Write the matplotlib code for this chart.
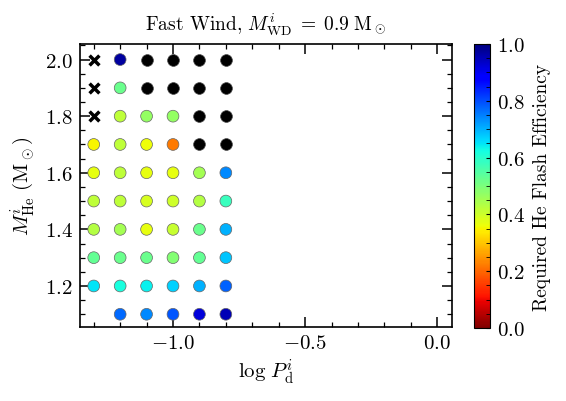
import numpy as np
import matplotlib
matplotlib.use("Agg")
import matplotlib.pyplot as plt
from matplotlib.ticker import MultipleLocator

plt.rcParams["font.family"] = "serif"
plt.rcParams["font.serif"] = ["cmr10"]
plt.rcParams["mathtext.fontset"] = "cm"
plt.rcParams["axes.formatter.use_mathtext"] = True
plt.rcParams["font.size"] = 15

log_p = [-1.3, -1.2, -1.1, -1.0, -0.9, -0.8]
m_he = [2.0, 1.9, 1.8, 1.7, 1.6, 1.5, 1.4, 1.3, 1.2, 1.1]

# efficiency grid (rows = m_he, cols = log_p); nan = no model, 9 = not reached (black), -1 = failed (x)
eff = [
    [-1, 0.97, 9, 9, 9, 9],
    [-1, 0.52, 9, 9, 9, 9],
    [-1, 0.42, 0.47, 0.47, 9, 9],
    [0.35, 0.42, 0.36, 0.22, 9, 9],
    [0.37, 0.42, 0.37, 0.37, 0.45, 0.74],
    [0.42, 0.42, 0.39, 0.40, 0.43, 0.58],
    [0.43, 0.45, 0.37, 0.41, 0.52, 0.70],
    [0.53, 0.52, 0.52, 0.49, 0.53, 0.68],
    [0.65, 0.62, 0.64, 0.67, 0.70, 0.78],
    [np.nan, 0.77, 0.74, 0.79, 0.92, 0.95],
]

X, Y = np.meshgrid(log_p, m_he)
E = np.array(eff)
ok = (E >= 0) & (E <= 1)
black = E > 1
fail = E < 0

fig = plt.figure(figsize=(5.66, 4.02), dpi=100)
ax = fig.add_axes([80 / 566, 1 - 328 / 402, 372 / 566, 283 / 402])
cax = fig.add_axes([474 / 566, 1 - 329 / 402, 16 / 566, 284 / 402])

sc = ax.scatter(X[ok], Y[ok], c=E[ok], cmap="jet_r", vmin=0, vmax=1,
                s=72, edgecolors="0.4", linewidths=0.5, zorder=3)
ax.scatter(X[black], Y[black], c="black", s=72, edgecolors="0.3",
           linewidths=0.5, zorder=3)
ax.scatter(X[fail], Y[fail], marker="x", c="black", s=50, linewidths=2.5, zorder=3)

ax.set_xlim(-1.352, 0.056)
ax.set_ylim(1.055, 2.055)
ax.xaxis.set_major_locator(MultipleLocator(0.5))
ax.xaxis.set_minor_locator(MultipleLocator(0.1))
ax.yaxis.set_major_locator(MultipleLocator(0.2))
ax.yaxis.set_minor_locator(MultipleLocator(0.05))
ax.tick_params(which="both", direction="in", top=True, right=True)
ax.tick_params(which="major", length=7, width=1.1, pad=5)
ax.tick_params(which="minor", length=3.5, width=0.9)
for sp in ax.spines.values():
    sp.set_linewidth(1.2)

ax.set_xlabel(r"$\log\,P^i_{\rm d}$", labelpad=3)
ax.set_ylabel(r"$M^i_{\rm He}$ (M$_\odot$)", labelpad=6)
ax.set_title(r"Fast Wind, $M^i_{\rm WD}\;=\;0.9\;$M$_\odot$", fontsize=14, pad=10)

cb = fig.colorbar(sc, cax=cax)
cb.set_label("Required He Flash Efficiency", fontsize=14, labelpad=6)
cb.set_ticks([0, 0.2, 0.4, 0.6, 0.8, 1.0])
cax.tick_params(direction="in", length=3, pad=5)
cax.yaxis.set_minor_locator(MultipleLocator(0.05))
cax.tick_params(which="minor", direction="in", length=3)

fig.savefig("out.png", dpi=100)
